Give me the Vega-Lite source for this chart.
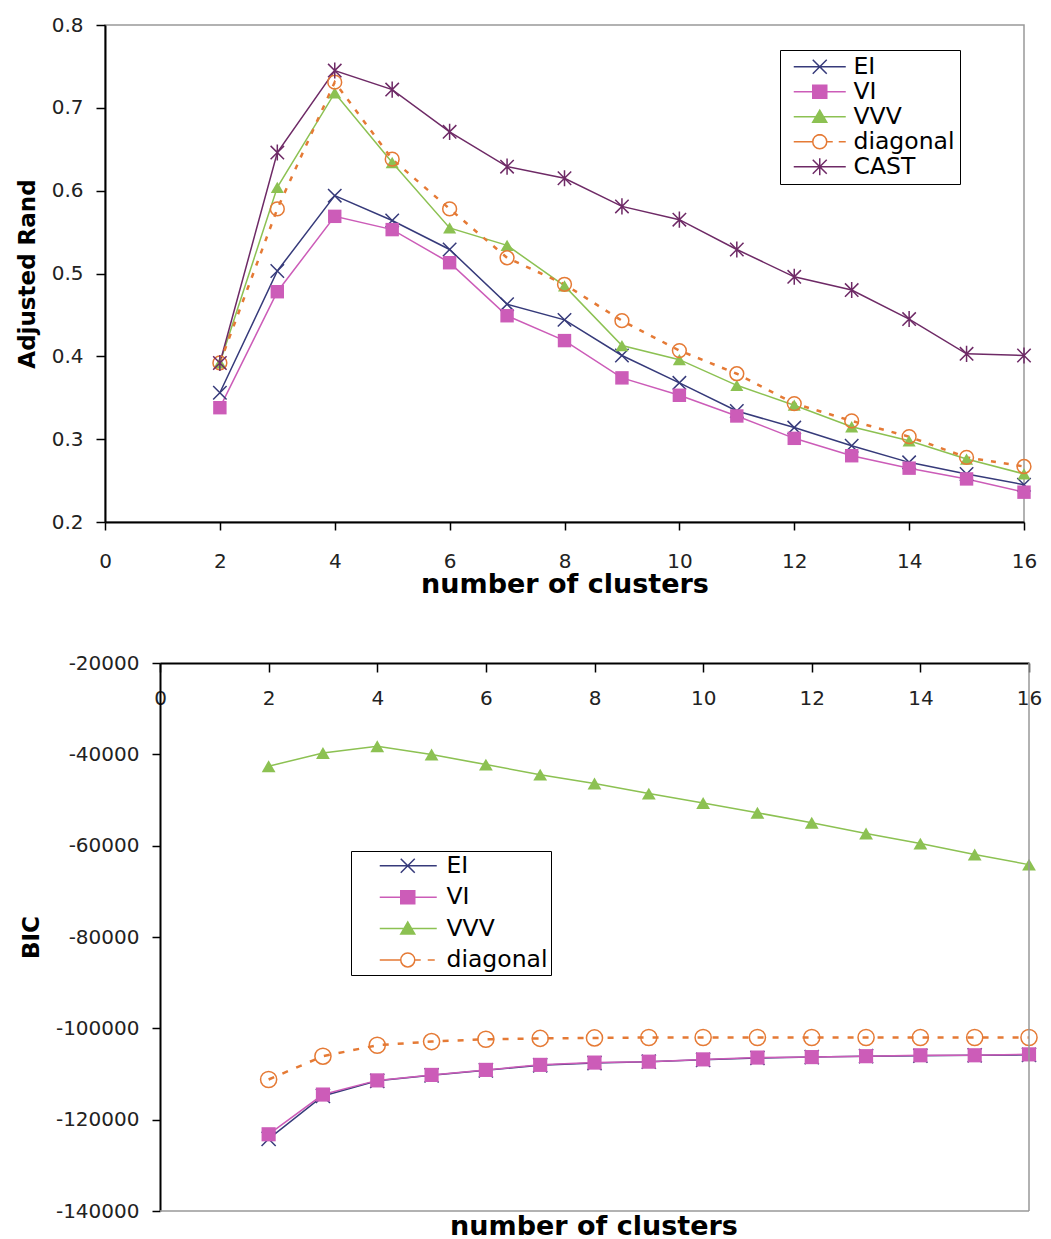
{
  "$schema": "https://vega.github.io/schema/vega-lite/v6.json",
  "background": "white",
  "padding": {"left": 15, "top": 14, "right": 5, "bottom": 0},
  "config": {
    "font": "DejaVu Sans",
    "view": {"stroke": "#999999", "strokeWidth": 1.5},
    "axis": {
      "domainColor": "black",
      "domainWidth": 2,
      "tickColor": "black",
      "tickWidth": 1.5,
      "labelColor": "#222222",
      "labelFont": "DejaVu Sans",
      "labelFontSize": 20,
      "titleFont": "DejaVu Sans",
      "titleFontSize": 23,
      "titleFontWeight": "bold",
      "titleColor": "black",
      "grid": false,
      "labelFlush": false,
      "labelOverlap": false
    },
    "legend": {
      "labelFont": "DejaVu Sans",
      "labelFontSize": 23.5,
      "labelColor": "black",
      "strokeColor": "black",
      "fillColor": "white",
      "symbolSize": 400,
      "symbolStrokeWidth": 1.5
    }
  },
  "datasets": {
    "rand": [
      {"k": 2, "series": "EI", "value": 0.356}, {"k": 3, "series": "EI", "value": 0.503}, {"k": 4, "series": "EI", "value": 0.594},
      {"k": 5, "series": "EI", "value": 0.564}, {"k": 6, "series": "EI", "value": 0.529}, {"k": 7, "series": "EI", "value": 0.463},
      {"k": 8, "series": "EI", "value": 0.444}, {"k": 9, "series": "EI", "value": 0.401}, {"k": 10, "series": "EI", "value": 0.368},
      {"k": 11, "series": "EI", "value": 0.334}, {"k": 12, "series": "EI", "value": 0.314}, {"k": 13, "series": "EI", "value": 0.292},
      {"k": 14, "series": "EI", "value": 0.272}, {"k": 15, "series": "EI", "value": 0.258}, {"k": 16, "series": "EI", "value": 0.245},
      {"k": 2, "series": "VI", "value": 0.338}, {"k": 3, "series": "VI", "value": 0.478}, {"k": 4, "series": "VI", "value": 0.569},
      {"k": 5, "series": "VI", "value": 0.553}, {"k": 6, "series": "VI", "value": 0.513}, {"k": 7, "series": "VI", "value": 0.449},
      {"k": 8, "series": "VI", "value": 0.419}, {"k": 9, "series": "VI", "value": 0.374}, {"k": 10, "series": "VI", "value": 0.353},
      {"k": 11, "series": "VI", "value": 0.328}, {"k": 12, "series": "VI", "value": 0.301}, {"k": 13, "series": "VI", "value": 0.280},
      {"k": 14, "series": "VI", "value": 0.265}, {"k": 15, "series": "VI", "value": 0.252}, {"k": 16, "series": "VI", "value": 0.236},
      {"k": 2, "series": "VVV", "value": 0.392}, {"k": 3, "series": "VVV", "value": 0.604}, {"k": 4, "series": "VVV", "value": 0.718},
      {"k": 5, "series": "VVV", "value": 0.634}, {"k": 6, "series": "VVV", "value": 0.555}, {"k": 7, "series": "VVV", "value": 0.534},
      {"k": 8, "series": "VVV", "value": 0.485}, {"k": 9, "series": "VVV", "value": 0.413}, {"k": 10, "series": "VVV", "value": 0.396},
      {"k": 11, "series": "VVV", "value": 0.365}, {"k": 12, "series": "VVV", "value": 0.341}, {"k": 13, "series": "VVV", "value": 0.315},
      {"k": 14, "series": "VVV", "value": 0.298}, {"k": 15, "series": "VVV", "value": 0.276}, {"k": 16, "series": "VVV", "value": 0.258},
      {"k": 2, "series": "diagonal", "value": 0.392}, {"k": 3, "series": "diagonal", "value": 0.578}, {"k": 4, "series": "diagonal", "value": 0.731},
      {"k": 5, "series": "diagonal", "value": 0.638}, {"k": 6, "series": "diagonal", "value": 0.578}, {"k": 7, "series": "diagonal", "value": 0.519},
      {"k": 8, "series": "diagonal", "value": 0.487}, {"k": 9, "series": "diagonal", "value": 0.443}, {"k": 10, "series": "diagonal", "value": 0.407},
      {"k": 11, "series": "diagonal", "value": 0.379}, {"k": 12, "series": "diagonal", "value": 0.343}, {"k": 13, "series": "diagonal", "value": 0.322},
      {"k": 14, "series": "diagonal", "value": 0.303}, {"k": 15, "series": "diagonal", "value": 0.278}, {"k": 16, "series": "diagonal", "value": 0.267},
      {"k": 2, "series": "CAST", "value": 0.392}, {"k": 3, "series": "CAST", "value": 0.646}, {"k": 4, "series": "CAST", "value": 0.745},
      {"k": 5, "series": "CAST", "value": 0.722}, {"k": 6, "series": "CAST", "value": 0.671}, {"k": 7, "series": "CAST", "value": 0.629},
      {"k": 8, "series": "CAST", "value": 0.615}, {"k": 9, "series": "CAST", "value": 0.581}, {"k": 10, "series": "CAST", "value": 0.565},
      {"k": 11, "series": "CAST", "value": 0.529}, {"k": 12, "series": "CAST", "value": 0.496}, {"k": 13, "series": "CAST", "value": 0.480},
      {"k": 14, "series": "CAST", "value": 0.445}, {"k": 15, "series": "CAST", "value": 0.403}, {"k": 16, "series": "CAST", "value": 0.401}
    ],
    "bic": [
      {"k": 2, "series": "EI", "value": -124200}, {"k": 3, "series": "EI", "value": -114800}, {"k": 4, "series": "EI", "value": -111500},
      {"k": 5, "series": "EI", "value": -110300}, {"k": 6, "series": "EI", "value": -109200}, {"k": 7, "series": "EI", "value": -108100},
      {"k": 8, "series": "EI", "value": -107600}, {"k": 9, "series": "EI", "value": -107300}, {"k": 10, "series": "EI", "value": -106900},
      {"k": 11, "series": "EI", "value": -106500}, {"k": 12, "series": "EI", "value": -106300}, {"k": 13, "series": "EI", "value": -106100},
      {"k": 14, "series": "EI", "value": -106000}, {"k": 15, "series": "EI", "value": -105900}, {"k": 16, "series": "EI", "value": -105800},
      {"k": 2, "series": "VI", "value": -123200}, {"k": 3, "series": "VI", "value": -114500}, {"k": 4, "series": "VI", "value": -111400},
      {"k": 5, "series": "VI", "value": -110200}, {"k": 6, "series": "VI", "value": -109100}, {"k": 7, "series": "VI", "value": -108000},
      {"k": 8, "series": "VI", "value": -107500}, {"k": 9, "series": "VI", "value": -107300}, {"k": 10, "series": "VI", "value": -106800},
      {"k": 11, "series": "VI", "value": -106400}, {"k": 12, "series": "VI", "value": -106300}, {"k": 13, "series": "VI", "value": -106100},
      {"k": 14, "series": "VI", "value": -105900}, {"k": 15, "series": "VI", "value": -105900}, {"k": 16, "series": "VI", "value": -105700},
      {"k": 2, "series": "VVV", "value": -42600}, {"k": 3, "series": "VVV", "value": -39700}, {"k": 4, "series": "VVV", "value": -38250},
      {"k": 5, "series": "VVV", "value": -40050}, {"k": 6, "series": "VVV", "value": -42250}, {"k": 7, "series": "VVV", "value": -44450},
      {"k": 8, "series": "VVV", "value": -46400}, {"k": 9, "series": "VVV", "value": -48600}, {"k": 10, "series": "VVV", "value": -50650},
      {"k": 11, "series": "VVV", "value": -52800}, {"k": 12, "series": "VVV", "value": -55000}, {"k": 13, "series": "VVV", "value": -57350},
      {"k": 14, "series": "VVV", "value": -59550}, {"k": 15, "series": "VVV", "value": -61950}, {"k": 16, "series": "VVV", "value": -64150},
      {"k": 2, "series": "diagonal", "value": -111200}, {"k": 3, "series": "diagonal", "value": -106100}, {"k": 4, "series": "diagonal", "value": -103700},
      {"k": 5, "series": "diagonal", "value": -102900}, {"k": 6, "series": "diagonal", "value": -102400}, {"k": 7, "series": "diagonal", "value": -102200},
      {"k": 8, "series": "diagonal", "value": -102100}, {"k": 9, "series": "diagonal", "value": -102000}, {"k": 10, "series": "diagonal", "value": -102000},
      {"k": 11, "series": "diagonal", "value": -102000}, {"k": 12, "series": "diagonal", "value": -102000}, {"k": 13, "series": "diagonal", "value": -102000},
      {"k": 14, "series": "diagonal", "value": -102000}, {"k": 15, "series": "diagonal", "value": -102000}, {"k": 16, "series": "diagonal", "value": -102000}
    ],
    "bicFrame": [
      {"k": 0, "kEnd": 16, "value": -140000, "valueEnd": -140000},
      {"k": 16, "kEnd": 16, "value": -140000, "valueEnd": -20000}
    ]
  },
  "columns": 1,
  "spacing": 55,
  "align": "none",
  "resolve": {
    "scale": {"color": "independent", "shape": "independent"},
    "legend": {"color": "independent", "shape": "independent"}
  },
  "concat": [
    {
      "width": 919,
      "height": 497,
      "data": {"name": "rand"},
      "encoding": {
        "x": {
          "field": "k", "type": "quantitative",
          "scale": {"domain": [0, 16], "nice": false},
          "axis": {"values": [0, 2, 4, 6, 8, 10, 12, 14, 16], "tickSize": 8, "labelPadding": 21, "title": "number of clusters", "titleFontSize": 27, "titlePadding": 0}
        },
        "y": {
          "field": "value", "type": "quantitative",
          "scale": {"domain": [0.2, 0.8], "nice": false, "zero": false},
          "axis": {"values": [0.2, 0.3, 0.4, 0.5, 0.6, 0.7, 0.8], "format": ".1f", "tickSize": 9, "labelPadding": 13, "title": "Adjusted Rand", "titlePadding": 12}
        },
        "color": {
          "field": "series", "type": "nominal",
          "scale": {"domain": ["EI", "VI", "VVV", "diagonal", "CAST"], "range": ["#363a7a", "#cc5cb8", "#8cc152", "#e57a35", "#6e2a66"]},
          "legend": {"title": null, "orient": "none", "legendX": 675, "legendY": 25, "padding": 5, "rowPadding": 0, "labelOffset": 45}
        }
      },
      "layer": [
        {"transform": [{"filter": "datum.series !== 'diagonal'"}], "mark": {"type": "line", "strokeWidth": 1.5}},
        {"transform": [{"filter": "datum.series === 'diagonal'"}], "mark": {"type": "line", "strokeWidth": 2.5, "strokeDash": [5, 8]}},
        {"transform": [{"filter": "datum.series === 'EI'"}], "mark": {"type": "point", "shape": "M-1,-1L1,1M-1,1L1,-1", "filled": false, "size": 180, "strokeWidth": 1.5, "opacity": 1}},
        {"transform": [{"filter": "datum.series === 'VI'"}], "mark": {"type": "point", "shape": "square", "filled": true, "size": 180, "opacity": 1}},
        {"transform": [{"filter": "datum.series === 'VVV'"}], "mark": {"type": "point", "shape": "triangle-up", "filled": true, "size": 170, "opacity": 1}},
        {"transform": [{"filter": "datum.series === 'diagonal'"}], "mark": {"type": "point", "shape": "circle", "filled": false, "size": 190, "strokeWidth": 1.5, "opacity": 1}},
        {"transform": [{"filter": "datum.series === 'CAST'"}], "mark": {"type": "point", "shape": "M-1,-1L1,1M-1,1L1,-1M0,-1.2L0,1.2", "filled": false, "size": 180, "strokeWidth": 1.5, "opacity": 1}},
        {
          "transform": [{"filter": "false"}],
          "mark": {"type": "point", "filled": false, "opacity": 1, "strokeWidth": 1.5},
          "encoding": {
            "shape": {"field": "series", "type": "nominal",
              "scale": {"domain": ["EI", "VI", "VVV", "diagonal", "CAST"], "range": [
                "M-0.3,0L4.9,0M1.6,-0.7L3,0.7M1.6,0.7L3,-0.7",
                "M-0.3,0L4.9,0M1.6,-0.65L3,-0.65L3,0.65L1.6,0.65Z",
                "M-0.3,0L4.9,0M1.6,0.55L2.3,-0.65L3,0.55Z",
                "M-0.3,0L1.6,0M3,0L3.6,0M4.2,0L4.9,0M1.6,0A0.7,0.7,0,1,1,3,0A0.7,0.7,0,1,1,1.6,0M1.6,0A0.7,0.7,0,1,0,3,0A0.7,0.7,0,1,0,1.6,0",
                "M-0.3,0L4.9,0M1.6,-0.7L3,0.7M1.6,0.7L3,-0.7M2.3,-0.85L2.3,0.85"]},
              "legend": {"title": null, "orient": "none", "legendX": 675, "legendY": 25, "padding": 5, "rowPadding": 0, "labelOffset": 45}}
          }
        }
      ]
    },
    {
      "width": 924,
      "height": 548,
      "view": {"stroke": null},
      "title": {"text": "number of clusters", "orient": "bottom", "anchor": "middle", "frame": "group", "dx": 27, "fontSize": 27, "font": "DejaVu Sans", "fontWeight": "bold", "color": "black", "offset": -7},
      "layer": [
        {
          "data": {"name": "bic"},
          "encoding": {
            "x": {
              "field": "k", "type": "quantitative",
              "scale": {"domain": [0, 16], "nice": false, "range": [55, 924]},
              "axis": {"orient": "bottom", "offset": -548, "values": [0, 2, 4, 6, 8, 10, 12, 14, 16], "tickSize": 9, "labelPadding": 16, "title": null}
            },
            "y": {
              "field": "value", "type": "quantitative",
              "scale": {"domain": [-140000, -20000], "nice": false, "zero": false},
              "axis": {"offset": -55, "values": [-140000, -120000, -100000, -80000, -60000, -40000, -20000], "labelExpr": "'' + datum.value", "tickSize": 8, "labelPadding": 13, "title": "BIC", "titlePadding": 12}
            },
            "color": {
              "field": "series", "type": "nominal",
              "scale": {"domain": ["EI", "VI", "VVV", "diagonal"], "range": ["#363a7a", "#cc5cb8", "#8cc152", "#e57a35"]},
              "legend": {"title": null, "orient": "none", "legendX": 246, "legendY": 188, "padding": 3, "rowPadding": 6.4, "labelOffset": 69}
            }
          },
          "layer": [
            {"transform": [{"filter": "datum.series !== 'diagonal'"}], "mark": {"type": "line", "strokeWidth": 1.5}},
            {"transform": [{"filter": "datum.series === 'diagonal'"}], "mark": {"type": "line", "strokeWidth": 2.5, "strokeDash": [6, 9]}},
            {"transform": [{"filter": "datum.series === 'EI'"}], "mark": {"type": "point", "shape": "M-1,-1L1,1M-1,1L1,-1", "filled": false, "size": 200, "strokeWidth": 1.5, "opacity": 1}},
            {"transform": [{"filter": "datum.series === 'VI'"}], "mark": {"type": "point", "shape": "square", "filled": true, "size": 200, "opacity": 1}},
            {"transform": [{"filter": "datum.series === 'VVV'"}], "mark": {"type": "point", "shape": "triangle-up", "filled": true, "size": 190, "opacity": 1}},
            {"transform": [{"filter": "datum.series === 'diagonal'"}], "mark": {"type": "point", "shape": "circle", "filled": false, "size": 260, "strokeWidth": 1.5, "opacity": 1}},
            {
              "transform": [{"filter": "false"}],
              "mark": {"type": "point", "filled": false, "opacity": 1, "strokeWidth": 1.5},
              "encoding": {
                "shape": {"field": "series", "type": "nominal",
                  "scale": {"domain": ["EI", "VI", "VVV", "diagonal"], "range": [
                    "M1.4,0L7.1,0M3.5,-0.7L4.9,0.7M3.5,0.7L4.9,-0.7",
                    "M1.4,0L7.1,0M3.5,-0.65L4.9,-0.65L4.9,0.65L3.5,0.65Z",
                    "M1.4,0L7.1,0M3.5,0.55L4.2,-0.65L4.9,0.55Z",
                    "M1.4,0L3.5,0M4.9,0L5.5,0M6.2,0L6.9,0M3.5,0A0.7,0.7,0,1,1,4.9,0A0.7,0.7,0,1,1,3.5,0M3.5,0A0.7,0.7,0,1,0,4.9,0A0.7,0.7,0,1,0,3.5,0"]},
                  "legend": {"title": null, "orient": "none", "legendX": 246, "legendY": 188, "padding": 3, "rowPadding": 6.4, "labelOffset": 69}}
              }
            }
          ]
        },
        {
          "data": {"name": "bicFrame"},
          "mark": {"type": "rule", "color": "#999999", "strokeWidth": 1.5},
          "encoding": {
            "x": {
              "field": "k", "type": "quantitative",
              "scale": {"domain": [0, 16], "nice": false, "range": [55, 924]},
              "axis": {"orient": "bottom", "offset": -548, "values": [0, 2, 4, 6, 8, 10, 12, 14, 16], "tickSize": 9, "labelPadding": 16, "title": null}
            },
            "x2": {"field": "kEnd"},
            "y": {
              "field": "value", "type": "quantitative",
              "scale": {"domain": [-140000, -20000], "nice": false, "zero": false},
              "axis": {"offset": -55, "values": [-140000, -120000, -100000, -80000, -60000, -40000, -20000], "labelExpr": "'' + datum.value", "tickSize": 8, "labelPadding": 13, "title": "BIC", "titlePadding": 12}
            },
            "y2": {"field": "valueEnd"}
          }
        }
      ]
    }
  ]
}
